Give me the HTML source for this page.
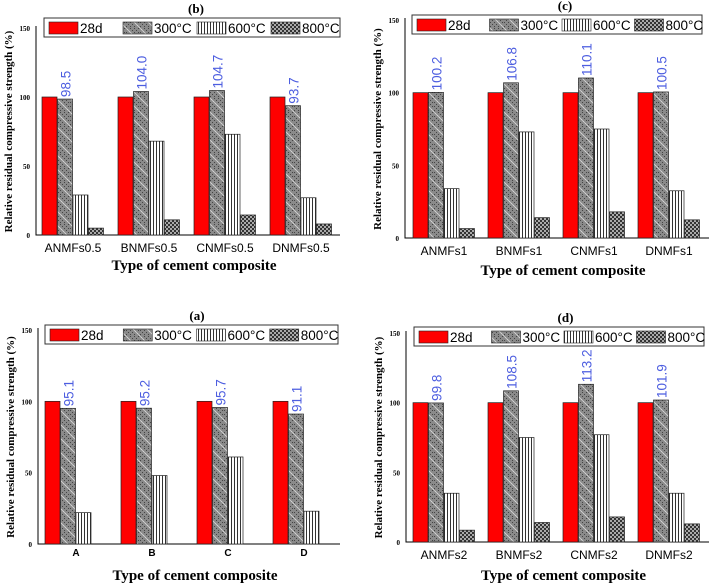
<!DOCTYPE html>
<html><head><meta charset="utf-8">
<style>
body{margin:0;background:#fff;width:709px;height:588px;overflow:hidden}
svg{position:absolute;left:0;top:0}
text{font-family:"Liberation Sans",sans-serif}
.serif{font-family:"Liberation Serif",serif;font-weight:bold}
</style></head>
<body>
<svg id="chart" width="709" height="588">
<defs>
<pattern id="p300" width="4" height="4" patternUnits="userSpaceOnUse">
<rect width="4" height="4" fill="#8a8a8a"/><rect width="1" height="1" fill="#444"/><rect x="2" y="2" width="1" height="1" fill="#444"/>
</pattern>
<pattern id="p300b" width="14" height="14" patternUnits="userSpaceOnUse">
<rect width="14" height="14" fill="url(#p300)"/><path d="M0 0L14 14" stroke="#ddd" stroke-width="0.8"/>
</pattern>
<pattern id="p600" width="3" height="4" patternUnits="userSpaceOnUse">
<rect width="3" height="4" fill="#fff"/><rect width="1" height="4" fill="#333"/>
</pattern>
<pattern id="p800" width="4" height="4" patternUnits="userSpaceOnUse">
<rect width="4" height="4" fill="#aaa"/><rect width="2" height="2" fill="#333"/><rect x="2" y="2" width="2" height="2" fill="#333"/>
</pattern>
</defs>
</svg>
<script>
const panelNames=['b','c','a','d'];
const catsB=['ANMFs0.5','BNMFs0.5','CNMFs0.5','DNMFs0.5'];
const catsC=['ANMFs1','BNMFs1','CNMFs1','DNMFs1'];
const catsA=['A','B','C','D'];
const catsD=['ANMFs2','BNMFs2','CNMFs2','DNMFs2'];
const v28=[100,100,100,100];
const b300=[98.5,104.0,104.7,93.7], b600=[29,68,73,27], b800=[5,11,14.5,8];
const c300=[100.2,106.8,110.1,100.5], c600=[34,73,75,32.5], c800=[6.5,14,18,12.5];
const a300=[95.1,95.2,95.7,91.1], a600=[22,48,61,23], a800=[0,0,0,0];
const d300=[99.8,108.5,113.2,101.9], d600=[35,75,77,35], d800=[8.5,14,18,13];
const yTicks=[0,50,100,150];
const legendLabels=['28d','300°C','600°C','800°C'];
const fills=['#ff0000','url(#p300b)','url(#p600)','url(#p800)'];
const NS='http://www.w3.org/2000/svg';
const svg=document.getElementById('chart');
function mk(tag,attrs,parent,txt){const e=document.createElementNS(NS,tag);for(const k in attrs)e.setAttribute(k,attrs[k]);if(txt!==undefined)e.textContent=txt;(parent||svg).appendChild(e);return e;}
const panels=[
 {id:'b',cats:catsB,s:[v28,b300,b600,b800],x0:36,x1:340,y0:235,y150:28,g0:42,gs:76,ly:18,lx:44,lw:296,xl:252,xt:270,small:false},
 {id:'c',cats:catsC,s:[v28,c300,c600,c800],x0:405,x1:709,y0:238,y150:20,g0:413,gs:75,ly:15,lx:412,lw:290,xl:255,xt:275,small:false},
 {id:'a',cats:catsA,s:[v28,a300,a600,a800],x0:38,x1:340,y0:544,y150:330,g0:45,gs:76,ly:325,lx:45,lw:293,xl:558,xt:580,small:true},
 {id:'d',cats:catsD,s:[v28,d300,d600,d800],x0:406,x1:709,y0:542,y150:333,g0:413,gs:75,ly:327,lx:414,lw:290,xl:559,xt:580,small:false}
];
panels.forEach(p=>{
 const g=mk('g',{});
 
 
 const y=v=>p.y0-(v/150)*(p.y0-p.y150);
 const t=mk('text',{x:(p.x0+p.x1)/2+8,y:p.ly-5,'text-anchor':'middle','font-size':13,class:'serif'},g,'('+p.id+')');
 
 
 const ax=mk('path',{d:`M${p.x0} ${p.y150-2}V${p.y0}H${p.x1}`,stroke:'#000','stroke-width':1,fill:'none'},g);
 
 
 yTicks.forEach(v=>{
  const tt=mk('text',{x:p.x0-6,y:y(v)+3,'text-anchor':'end','font-size':7,class:'serif'},g,v);
  
  
 });
 const yt=mk('text',{transform:`translate(${p.x0-24},${(p.y0+p.y150)/2}) rotate(-90)`,'text-anchor':'middle','font-size':11,class:'serif'},g,'Relative residual compressive strength (%)');
 
 
 p.cats.forEach((c,i)=>{
  const gx=p.g0+i*p.gs;
  p.s.forEach((arr,k)=>{
   const v=arr[i];
   if(v<=0)return;
   const r=mk('rect',{x:gx+k*15.5,y:y(v),width:15,height:p.y0-y(v),fill:fills[k],stroke:'#222','stroke-width':0.7},g);
   
   
  });
  const v3=p.s[1][i];
  const lb=mk('text',{transform:`translate(${gx+15.5+13},${y(v3)-2}) rotate(-90)`,'font-size':13.5,fill:'#4d5ee0'},g,v3.toFixed(1));
  
  
  const xl=mk('text',{x:gx+31,y:p.xl+(p.small?-2:0),'text-anchor':'middle','font-size':p.small?10:12,'font-weight':p.small?'bold':'normal'},g,c);
  
  
 });
 const xt=mk('text',{x:(p.x0+p.x1)/2+6,y:p.xt,'text-anchor':'middle','font-size':15,class:'serif'},g,'Type of cement composite');
 
 
 const lg=mk('g',{},g);
 
 
 mk('rect',{x:p.lx,y:p.ly,width:p.lw,height:19,fill:'#fff',stroke:'#333','stroke-width':1},lg);
 const step=p.lw/4;
 legendLabels.forEach((l,k)=>{
  const lx=p.lx+5+k*step;
  const sw=mk('rect',{x:lx,y:p.ly+4,width:29,height:12,fill:fills[k],stroke:'#222','stroke-width':0.6},lg);
  
  
  const lt=mk('text',{x:lx+31,y:p.ly+15,'font-size':13.5},lg,l);
  
  
 });
});
</script>
</body></html>
